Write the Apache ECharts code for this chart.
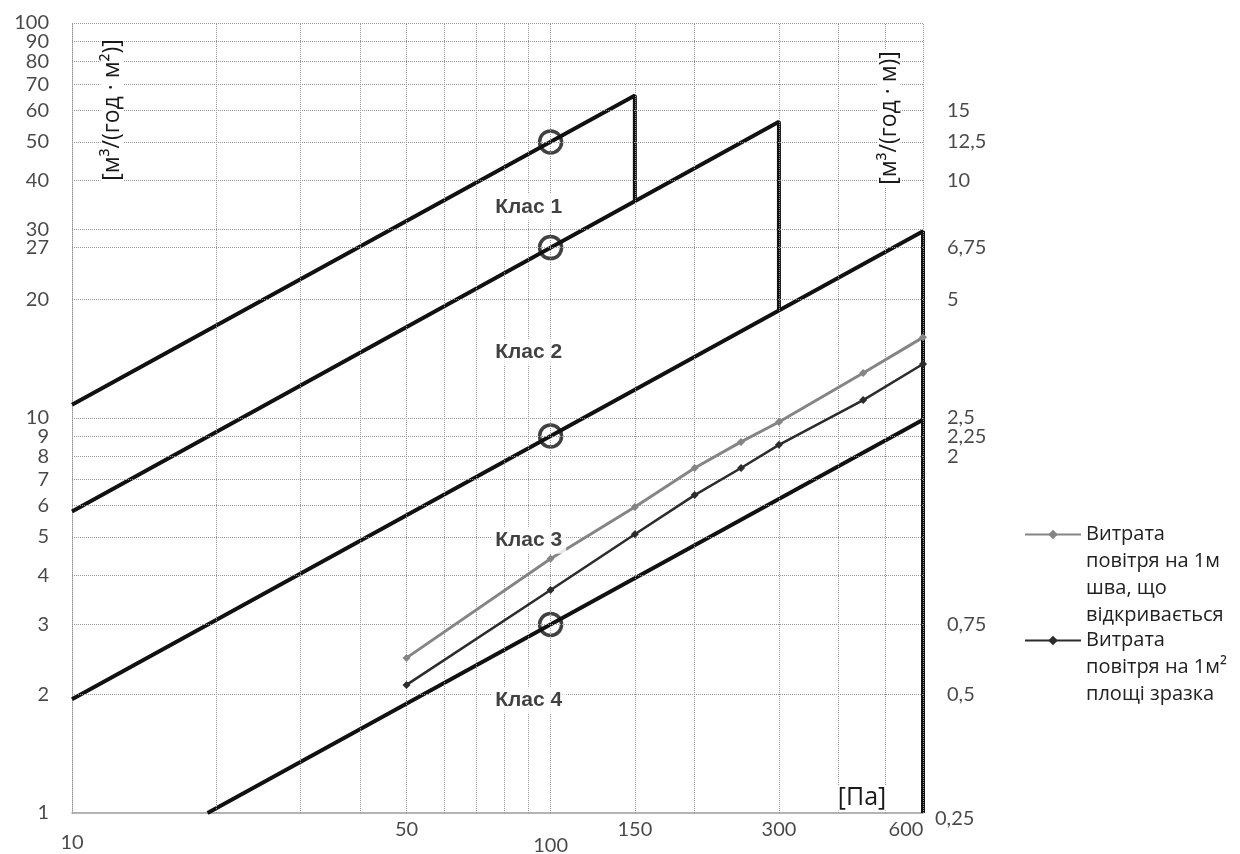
<!DOCTYPE html>
<html>
<head>
<meta charset="utf-8">
<script src="https://cdn.jsdelivr.net/npm/echarts@6/dist/echarts.min.js"></script>
<style>
  html, body { margin: 0; background: #fff; }
  #chart { width: 1240px; height: 854px; }
</style>
</head>
<body>
<div id="chart"></div>
<script>
// тиск, Па
const pressure = [50, 100, 150, 200, 250, 300, 450, 600];
// витрата повітря на 1 м шва (сіра лінія)
const seamFlow = [2.47, 4.4, 5.95, 7.47, 8.7, 9.77, 13.0, 16.0];
// витрата повітря на 1 м² площі (темна лінія)
const areaFlow = [2.11, 3.67, 5.08, 6.38, 7.47, 8.55, 11.1, 13.7];

// межі класів [Па, м³/(год·м²)]
const class1 = [[10, 10.8], [150, 65.5], [150, 35.4]];
const class2 = [[10, 5.8], [300, 56.2], [300, 18.7]];
const class3 = [[10, 1.94], [600, 29.7], [600, 1]];
const class4 = [[19.2, 1], [600, 9.9]];
const refPoints = [[100, 50], [100, 27], [100, 9], [100, 3]];
const classNames = ['Клас 1', 'Клас 2', 'Клас 3', 'Клас 4'];
const classLabelAt = [[90, 34.2], [90, 14.7], [90, 4.9], [90, 1.93]];

// осі
const xTicks = [10, 50, 100, 150, 300, 600];
const xGrid = [20, 30, 40, 50, 60, 70, 80, 90, 100, 150, 200, 300, 400, 500, 600];
const yTicks = [1, 2, 3, 4, 5, 6, 7, 8, 9, 10, 20, 27, 30, 40, 50, 60, 70, 80, 90, 100];
const rightTicks = [0.25, 0.5, 0.75, 2, 2.25, 2.5, 5, 6.75, 10, 12.5, 15];

const seamName = 'Витрата\nповітря на 1м\nшва, що\nвідкривається';
const areaName = 'Витрата\nповітря на 1м²\nплощі зразка';

const tickFont = { fontFamily: 'Lato', fontSize: 20, color: '#1a1a1a' };
const gridLine = { type: 'dotted', color: '#959595', width: 1 };
const legendText = { fontFamily: 'Open Sans', fontSize: 20, lineHeight: 27, color: '#222' };

// іконка легенди стоїть навпроти першого рядка
const firstLineUp = (name) => '\n'.repeat(name.split('\n').length - 1) + name;

const chart = echarts.init(document.getElementById('chart'));

const option = {
  animation: false,
  backgroundColor: '#fff',
  grid: { left: 72, right: 317, top: 23, bottom: 41 },
  xAxis: {
    type: 'log', logBase: 10, min: 10, max: 600,
    axisLabel: { show: false }, axisTick: { show: false }, splitLine: { show: false },
    axisLine: { lineStyle: { color: '#9a9a9a', width: 1.5 } }
  },
  yAxis: [
    {
      type: 'log', logBase: 10, min: 1, max: 100,
      axisLabel: { show: false }, axisTick: { show: false }, splitLine: { show: false },
      axisLine: { show: true, lineStyle: gridLine }
    },
    {
      type: 'log', logBase: 10, min: 0.25, max: 25, show: false
    }
  ],
  legend: [
    {
      data: [seamName], formatter: firstLineUp,
      orient: 'vertical', left: 1024, top: 440, padding: 0,
      itemWidth: 56, itemHeight: 12, textStyle: legendText
    },
    {
      data: [areaName], formatter: firstLineUp,
      orient: 'vertical', left: 1024, top: 573, padding: 0,
      itemWidth: 56, itemHeight: 12, textStyle: legendText
    }
  ],
  graphic: [
    {
      type: 'text', x: 112, y: 110, rotation: Math.PI / 2, z: 10,
      style: {
        text: '[м³/(год · м²)]', font: '23px "Open Sans"', fill: '#1a1a1a',
        align: 'center', verticalAlign: 'middle', backgroundColor: '#fff', padding: [0, 2]
      }
    },
    {
      type: 'text', x: 889, y: 118, rotation: Math.PI / 2, z: 10,
      style: {
        text: '[м³/(год · м)]', font: '23px "Open Sans"', fill: '#1a1a1a',
        align: 'center', verticalAlign: 'middle', backgroundColor: '#fff', padding: [0, 2]
      }
    },
    {
      type: 'text', x: 862, y: 798, z: 10,
      style: {
        text: '[Па]', font: '25px "Open Sans"', fill: '#1a1a1a',
        align: 'center', verticalAlign: 'middle', backgroundColor: '#fff', padding: [0, 3]
      }
    }
  ],
  series: [
    // сітка
    {
      type: 'line', data: [], silent: true, z: 1,
      markLine: {
        silent: true, symbol: ['none', 'none'], animation: false,
        label: { show: false }, lineStyle: gridLine,
        data: [
          ...yTicks.filter((v) => v > 1).map((v) => ({ yAxis: v })),
          ...xGrid.map((v) => ({ xAxis: v }))
        ]
      }
    },
    // підписи лівої осі
    {
      type: 'scatter', symbolSize: 0, silent: true, z: 6,
      data: yTicks.map((v) => [10, v]),
      label: {
        show: true, position: 'left', distance: 23, ...tickFont,
        formatter: (p) => String(p.value[1])
      }
    },
    // підписи правої осі
    {
      type: 'scatter', yAxisIndex: 1, symbolSize: 0, silent: true, z: 6,
      data: rightTicks.map((v) => ({
        value: [600, v],
        label: v === 0.25 ? { offset: [-12, 6] } : {}
      })),
      label: {
        show: true, position: 'right', distance: 24, ...tickFont, align: 'left',
        formatter: (p) => String(p.value[1]).replace('.', ',')
      }
    },
    // підписи осі тиску
    {
      type: 'scatter', symbolSize: 0, silent: true, z: 6,
      data: xTicks.map((v) => ({
        value: [v, 1],
        label: v === 100 ? { offset: [0, 16] } : v === 10 ? { offset: [0, 13] } : v === 600 ? { offset: [-17, 0] } : {}
      })),
      label: {
        show: true, position: 'bottom', distance: 7, ...tickFont,
        formatter: (p) => String(p.value[0])
      }
    },
    // межі класів
    ...[class1, class2, class3, class4].map((d) => ({
      type: 'line', data: d, symbol: 'none', silent: true, z: 3,
      lineStyle: { color: '#111', width: 4 }
    })),
    {
      type: 'scatter', data: refPoints, symbol: 'circle', symbolSize: 22, z: 4,
      itemStyle: { color: 'rgba(0,0,0,0)', borderColor: '#111', borderWidth: 3.5 }
    },
    {
      type: 'scatter', symbolSize: 0, silent: true, z: 7,
      data: classLabelAt.map((p, i) => ({ value: p, name: classNames[i] })),
      label: {
        show: true, position: 'inside', formatter: '{b}',
        fontFamily: 'Liberation Sans', fontWeight: 'bold', fontSize: 21, color: '#111',
        backgroundColor: '#fff', padding: [3, 4]
      }
    },
    // виміряні дані
    {
      name: seamName, type: 'line', z: 5,
      data: pressure.map((p, i) => [p, seamFlow[i]]),
      symbol: 'diamond', symbolSize: 8,
      itemStyle: { color: '#858585' }, lineStyle: { color: '#858585', width: 3 }
    },
    {
      name: areaName, type: 'line', z: 5,
      data: pressure.map((p, i) => [p, areaFlow[i]]),
      symbol: 'diamond', symbolSize: 8,
      itemStyle: { color: '#2c2c2c' }, lineStyle: { color: '#2c2c2c', width: 2.5 }
    }
  ]
};

chart.setOption(option);
</script>
</body>
</html>
